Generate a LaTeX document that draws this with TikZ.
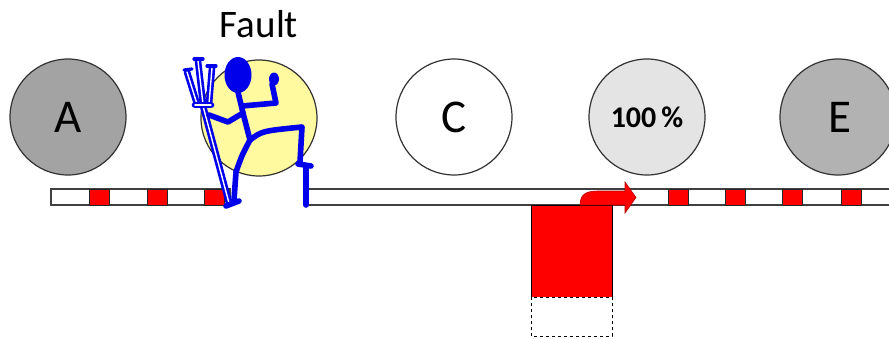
\documentclass[tikz,border=0pt]{standalone}
\usepackage{fontspec}
\setmainfont{Carlito}
\begin{document}
\begin{tikzpicture}[x=1pt,y=-1pt,
  ball/.style={circle,draw=black!80,line width=1.2pt,minimum size=116pt,inner sep=0pt},
  barframe/.style={draw=black!75,line width=1.4pt,fill=white},
  slot/.style={draw=black!85,line width=1pt,fill=red},
  devil/.style={draw={rgb,255:red,0;green,0;blue,235},line width=5.6pt,line cap=round,line join=round},
  fork/.style={draw={rgb,255:red,0;green,0;blue,235},line width=2.6pt,double=white,double distance=1.4pt,line cap=round}]
\definecolor{devilblue}{RGB}{0,0,235}
\useasboundingbox (0,0) rectangle (889,338);

% conveyor bar, broken where the figure stands
\draw[barframe] (51,189) rectangle (230,205);
\draw[barframe] (306,189) rectangle (895,205);
\foreach \x in {89,147,204,668,725,782,841}
  \draw[slot] (\x,189) rectangle ++(20,16);

% buffer block and its empty part
\draw[draw=black,line width=1pt,fill=red] (531,205) rectangle (612,297);
\draw[draw=black,line width=0.9pt,dashed,fill=white] (531,297) rectangle (612,336);

% outflow arrow
\draw[fill=red,draw=red!70!black,line width=0.6pt]
  (580,205) .. controls (580,193) and (588,191) .. (598,191) -- (625,191)
  -- (625,182) -- (636,197.5) -- (625,213) -- (625,205) -- cycle;

% stations
\node[ball,fill={rgb,255:red,163;green,163;blue,163}] (a) at (68,117) {};
\node[ball,fill={rgb,255:red,255;green,250;blue,160}] (b) at (259,118) {};
\node[ball,fill=white] (c) at (454,117) {};
\node[ball,fill={rgb,255:red,228;green,228;blue,228}] (d) at (647,117) {};
\node[ball,fill={rgb,255:red,178;green,178;blue,178}] (e) at (838,117) {};

\node[anchor=base,inner sep=0pt,font=\fontsize{47}{47}\selectfont] (la) at (68,132) {A};
\node[anchor=base,inner sep=0pt,font=\fontsize{47}{47}\selectfont] (lc) at (454,132) {C};
\node[anchor=base,inner sep=0pt,font=\fontsize{47}{47}\selectfont] (le) at (840,132) {E};
\node[anchor=base,inner sep=0pt,font=\bfseries\fontsize{30}{30}\selectfont] (ld) at (647,127) {100\,\%};
\node[anchor=base,inner sep=0pt,font=\fontsize{39}{39}\selectfont] (fault) at (259,37) {Fault};

% trident
\draw[fork] (203,106) -- (229,203);
\draw[fork] (187,72) -- (197,104);
\draw[fork] (198,61) -- (203,104);
\draw[fork] (212,68) -- (209,104);
\draw[fork] (195,105) -- (211,105);
\draw[devilblue,line width=3.2pt,line cap=round] (184,70) -- (192,69);
\draw[devilblue,line width=3.2pt,line cap=round] (194,59) -- (203,59);
\draw[devilblue,line width=3.2pt,line cap=round] (207,66) -- (216,66);

% devil
\fill[devilblue] (238,75) ellipse [x radius=13.5, y radius=18];
\draw[devil] (238,92) -- (243,113) -- (250,140);
\draw[devil] (243,113) -- (228,122) -- (209,115);
\draw[devil] (242,106) -- (276,103) -- (272,84);
\fill[devilblue] (274,79) ellipse [x radius=5, y radius=6.5];
\draw[devil] (250,140) .. controls (262,131) .. (302,127) -- (300,162);
\draw[devil] (298,164) -- (311,166);
\draw[devil] (306,166) -- (306,205);
\draw[devil] (250,140) .. controls (242,155) .. (236,172) -- (234,200);
\draw[devil] (226,206) -- (239,201);
\end{tikzpicture}
\end{document}
